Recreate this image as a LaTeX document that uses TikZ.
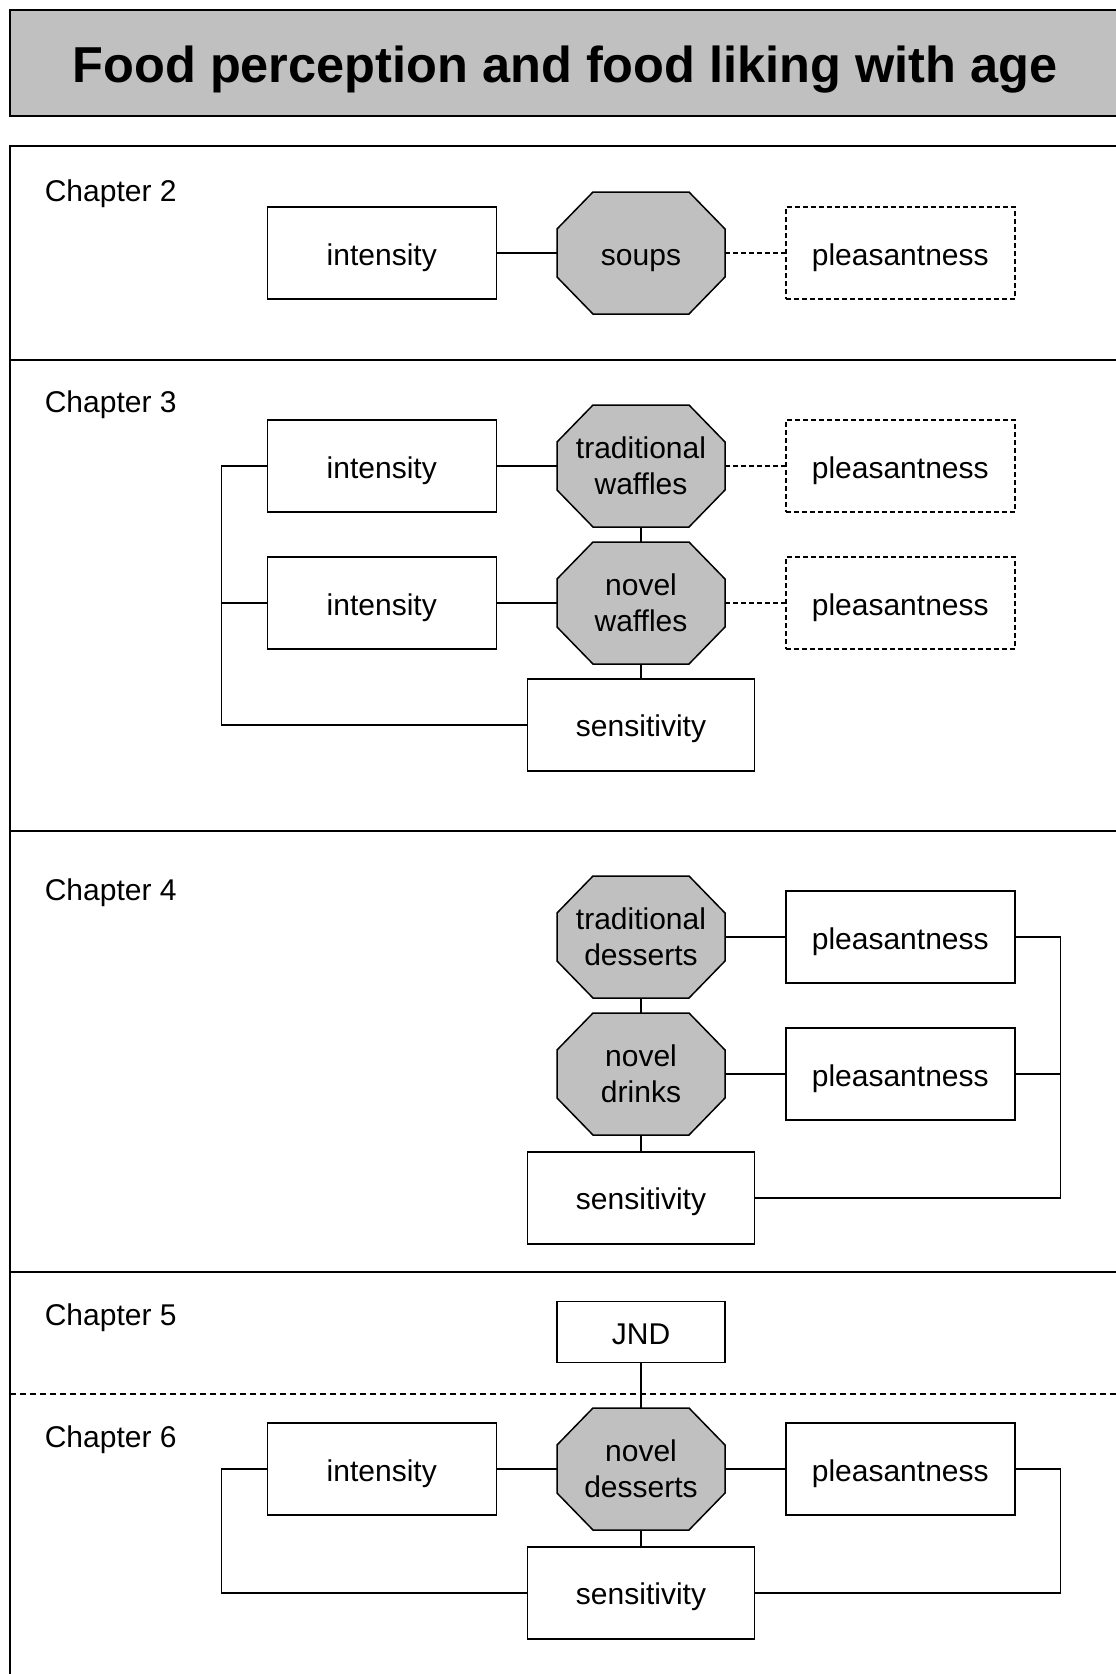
\documentclass[tikz,border=0pt]{standalone}
\usepackage{fontspec}
\setmainfont{Liberation Sans}
\usepackage{tikz}
\usetikzlibrary{positioning}
\definecolor{boxGray}{RGB}{192,192,192}

\begin{document}
\begin{tikzpicture}[x=1pt, y=-1pt, line width=1.6pt,
        every node/.style={font=\fontsize{30}{36}\selectfont, align=center, inner sep=0pt},
        measure/.style={draw, line width=1.5pt, minimum width=229pt, minimum height=92pt, text height=24pt, text depth=0pt},
        guess/.style={measure, dash pattern=on 5pt off 3pt},
        food/.style={minimum width=170pt, minimum height=124pt, outer sep=-1pt,
            path picture={\draw[line width=1.5pt, fill=boxGray]
                ([shift={(37pt,-1pt)}]path picture bounding box.north west) -- ([shift={(-37pt,-1pt)}]path picture bounding box.north east)
                -- ([shift={(-1pt,-38pt)}]path picture bounding box.north east) -- ([shift={(-1pt,38pt)}]path picture bounding box.south east)
                -- ([shift={(-37pt,1pt)}]path picture bounding box.south east) -- ([shift={(37pt,1pt)}]path picture bounding box.south west)
                -- ([shift={(1pt,38pt)}]path picture bounding box.south west) -- ([shift={(1pt,-38pt)}]path picture bounding box.north west)
                -- cycle;}},
        chapter/.style={anchor=west, text height=24pt, text depth=0pt}]
    \useasboundingbox (0,0) rectangle (1116,1674);
    \clip (0,0) rectangle (1116,1674);

    \draw[line width=2pt, fill=boxGray] (10,10) rectangle (1140,116);
    \node[font=\fontsize{50.5}{55}\selectfont\bfseries] (title) at (565,70) {Food perception and food liking with age};

    \draw[line width=2pt] (1140,146) -| (10,1700);
    \draw[line width=2pt] (10,360) -- (1140,360);
    \draw[line width=2pt] (10,831) -- (1140,831);
    \draw[line width=2pt] (10,1272) -- (1140,1272);
    \draw[line width=1.3pt, dash pattern=on 6pt off 4pt] (10,1394) -- (1140,1394);

    \node[chapter] (ch2) at (44,189) {Chapter 2};
    \node[chapter] (ch3) at (44,400) {Chapter 3};
    \node[chapter] (ch4) at (44,888) {Chapter 4};
    \node[chapter] (ch5) at (44,1313) {Chapter 5};
    \node[chapter] (ch6) at (44,1435) {Chapter 6};

    \node[food, text height=24pt, text depth=0pt] (soups) at (641,253) {soups};
    \node[measure, left=60pt of soups] (int2) {intensity};
    \node[guess, right=60pt of soups] (pleas2) {pleasantness};
    \draw (int2) -- (soups);
    \draw[dash pattern=on 5pt off 3pt] (soups) -- (pleas2);

    \node[food] (tradw) at (641,466) {traditional\\waffles};
    \node[food, below=15pt of tradw] (novw) {novel\\waffles};
    \node[measure, below=14pt of novw, minimum width=227pt] (sens3) {sensitivity};
    \node[measure, left=60pt of tradw] (int3a) {intensity};
    \node[measure, left=60pt of novw] (int3b) {intensity};
    \node[guess, right=60pt of tradw] (pleas3a) {pleasantness};
    \node[guess, right=60pt of novw] (pleas3b) {pleasantness};
    \draw (int3a) -- (tradw);
    \draw (int3b) -- (novw);
    \draw[dash pattern=on 5pt off 3pt] (tradw) -- (pleas3a);
    \draw[dash pattern=on 5pt off 3pt] (novw) -- (pleas3b);
    \draw (tradw) -- (novw);
    \draw (novw) -- (sens3);
    \draw (int3a.west) -- ++(-45,0) |- (sens3.west);
    \draw (int3b.west) -- ++(-45,0);

    \node[food] (tradd) at (641,937) {traditional\\desserts};
    \node[food, below=15pt of tradd] (novd) {novel\\drinks};
    \node[measure, below=16pt of novd, minimum width=227pt] (sens4) {sensitivity};
    \node[measure, right=60pt of tradd] (pleas4a) {pleasantness};
    \node[measure, right=60pt of novd] (pleas4b) {pleasantness};
    \draw (tradd) -- (pleas4a);
    \draw (novd) -- (pleas4b);
    \draw (tradd) -- (novd);
    \draw (novd) -- (sens4);
    \draw (pleas4a.east) -- ++(45,0) |- (sens4.east);
    \draw (pleas4b.east) -- ++(45,0);

    \node[measure, minimum width=168pt, minimum height=61pt] (jnd) at (641,1332) {JND};
    \node[food] (novd6) at (641,1469) {novel\\desserts};
    \node[measure, below=16pt of novd6, minimum width=227pt] (sens6) {sensitivity};
    \node[measure, left=60pt of novd6] (int6) {intensity};
    \node[measure, right=60pt of novd6] (pleas6) {pleasantness};
    \draw (jnd) -- (novd6);
    \draw (int6) -- (novd6);
    \draw (novd6) -- (pleas6);
    \draw (novd6) -- (sens6);
    \draw (int6.west) -- ++(-45,0) |- (sens6.west);
    \draw (pleas6.east) -- ++(45,0) |- (sens6.east);
\end{tikzpicture}
\end{document}
